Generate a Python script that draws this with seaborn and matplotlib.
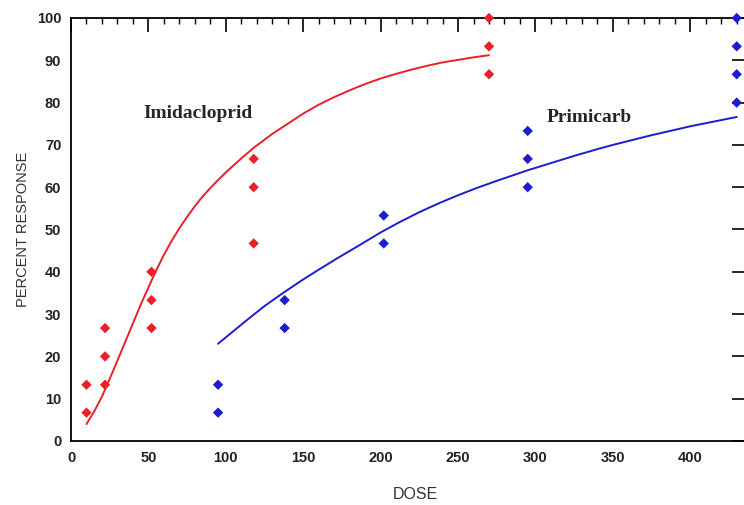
import numpy as np
import pandas as pd
import matplotlib
matplotlib.use("Agg")
import matplotlib.pyplot as plt
import seaborn as sns
from matplotlib.ticker import MultipleLocator

# observed responses (replicates per dose)
imid_dose = [10, 10, 22, 22, 22, 52, 52, 52, 118, 118, 118, 270, 270, 270]
imid_resp = [6.7, 13.3, 13.3, 20.0, 26.7, 26.7, 33.3, 40.0, 46.7, 60.0, 66.7, 86.7, 93.3, 100.0]
prim_dose = [95, 95, 138, 138, 202, 202, 295, 295, 295, 430, 430, 430, 430]
prim_resp = [6.7, 13.3, 26.7, 33.3, 46.7, 53.3, 60.0, 66.7, 73.3, 80.0, 86.7, 93.3, 100.0]

# fitted curves
imid_fit_x = [10, 15, 20, 25, 30, 35, 40, 45, 50, 55, 60, 65, 70, 75, 80, 85, 90, 95, 100,
              110, 118, 130, 140, 150, 160, 170, 180, 190, 200, 210, 220, 230, 240, 250, 260, 270]
imid_fit_y = [4, 7, 10.5, 14.7, 19, 23.4, 27.8, 32.2, 36.3, 40.3, 44, 47.3, 50.3, 53, 55.5,
              57.8, 59.8, 61.7, 63.5, 66.8, 69.3, 72.6, 75, 77.4, 79.5, 81.3, 82.9, 84.4, 85.7,
              86.8, 87.8, 88.7, 89.5, 90.1, 90.7, 91.2]
prim_fit_x = [95, 105, 115, 125, 137, 150, 160, 172, 185, 200, 212, 225, 237, 250, 262, 275,
              295, 310, 325, 340, 350, 362, 375, 387, 400, 415, 430]
prim_fit_y = [23, 26, 29, 31.9, 35, 38.2, 40.5, 43.2, 46, 49.3, 51.7, 54.1, 56.1, 58.1, 59.8,
              61.5, 64, 65.7, 67.4, 69, 70, 71.1, 72.3, 73.3, 74.4, 75.5, 76.6]

RED = "#e8202a"
BLUE = "#1c1cd0"

sns.set_style("white")
plt.rcParams["font.family"] = ["Liberation Sans", "DejaVu Sans"]

fig = plt.figure(figsize=(7.44, 5.05), dpi=100)
ax = fig.add_axes([71 / 744, 1 - 441 / 505, (746 - 71) / 744, (441 - 18) / 505])

sns.lineplot(x=imid_fit_x, y=imid_fit_y, ax=ax, color=RED, linewidth=1.4)
sns.lineplot(x=prim_fit_x, y=prim_fit_y, ax=ax, color=BLUE, linewidth=1.4)

pts = pd.DataFrame({
    "dose": imid_dose + prim_dose,
    "resp": imid_resp + prim_resp,
    "chem": ["Imidacloprid"] * len(imid_dose) + ["Primicarb"] * len(prim_dose),
})
sns.scatterplot(data=pts, x="dose", y="resp", hue="chem", palette=[RED, BLUE],
                marker="D", s=28, edgecolor="none", ax=ax, legend=False, clip_on=False, zorder=5)

ax.set_xlim(0, 436)
ax.set_ylim(0, 100)
ax.xaxis.set_major_locator(MultipleLocator(50))
ax.xaxis.set_minor_locator(MultipleLocator(10))
ax.yaxis.set_major_locator(MultipleLocator(10))
ax.yaxis.set_minor_locator(MultipleLocator(2))
ax.tick_params(which="major", direction="in", length=10, width=1.2, color="black",
               top=True, right=True, labelsize=10.5, pad=7)
ax.tick_params(which="minor", direction="in", length=4, width=1.0, color="black",
               top=True, right=False)
for lab in ax.get_xticklabels() + ax.get_yticklabels():
    lab.set_fontweight("bold")
    lab.set_color("#222222")
for sp in ax.spines.values():
    sp.set_color("black")
    sp.set_linewidth(1.3)

ax.set_xlabel("DOSE", fontsize=11.5, color="#333333")
ax.xaxis.set_label_coords(0.51, -0.108)
ax.set_ylabel("PERCENT RESPONSE", fontsize=10.5, color="#333333", labelpad=5)

ax.text(46.5, 77.5, "Imidacloprid", fontsize=14, fontweight="bold",
        family=["Liberation Serif", "DejaVu Serif"], va="center", ha="left")
ax.text(307, 76.4, "Primicarb", fontsize=14, fontweight="bold",
        family=["Liberation Serif", "DejaVu Serif"], va="center", ha="left")

fig.savefig("out.png", dpi=100)
